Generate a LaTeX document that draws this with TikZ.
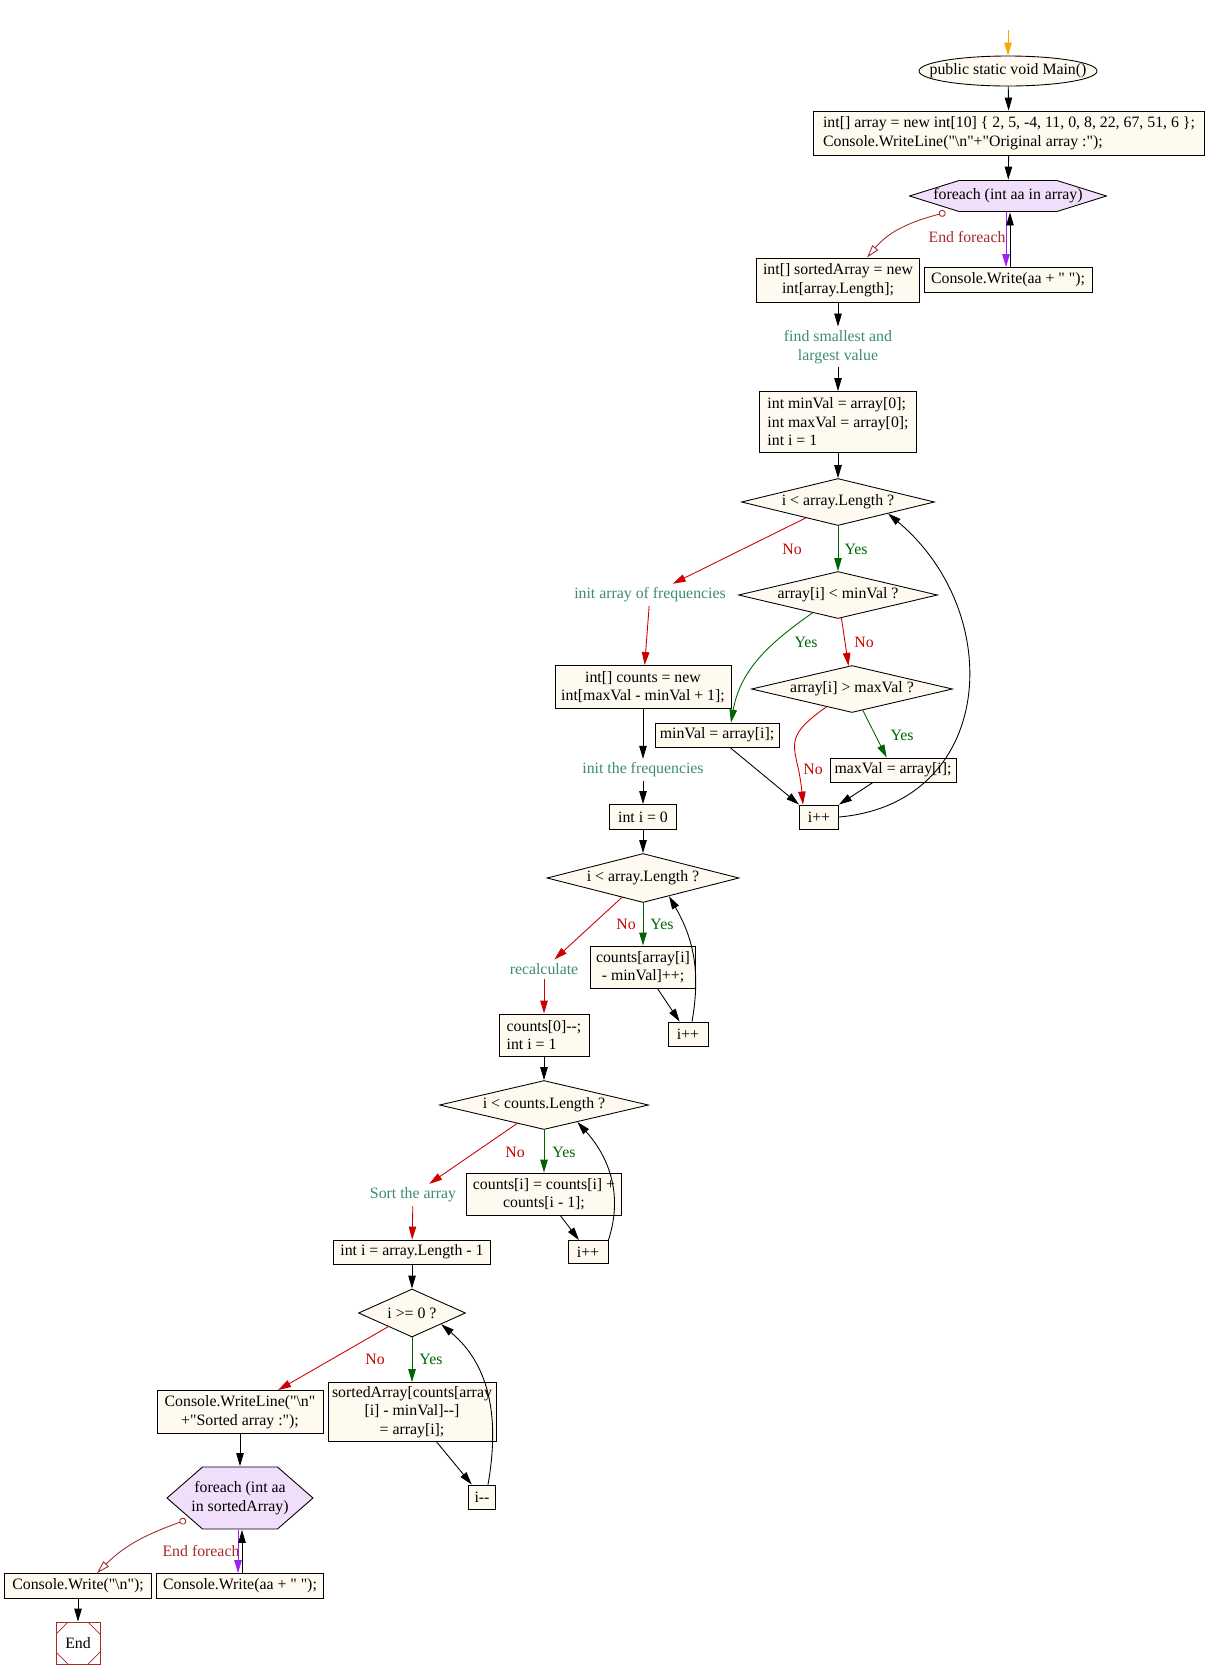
\documentclass[tikz,border=0pt]{standalone}
\usepackage{fontspec}
\setmainfont{Liberation Serif}[Ligatures=TeXOff]
\usetikzlibrary{arrows.meta,shapes.geometric}
\definecolor{boxfill}{RGB}{255,250,240}
\definecolor{loopfill}{RGB}{240,222,250}
\definecolor{notecol}{RGB}{60,140,110}
\definecolor{nocol}{RGB}{204,0,0}
\definecolor{yescol}{RGB}{0,100,0}
\definecolor{endcol}{RGB}{165,42,42}
\definecolor{loopcol}{RGB}{160,32,240}
\definecolor{startcol}{RGB}{255,165,0}

\begin{document}
\begin{tikzpicture}[font=\fontsize{9}{10.5}\selectfont, line width=0.5pt,
  >={Triangle[length=2.6mm,width=1.5mm]},
  codebox/.style={rectangle, draw, fill=boxfill, inner sep=2pt, align=center},
  testnode/.style={diamond, draw, fill=boxfill, inner sep=0pt},
  notenode/.style={text=notecol, align=center, inner sep=2pt},
  startnode/.style={ellipse, draw, fill=boxfill, inner sep=0pt, minimum width=3.56cm, minimum height=0.6cm},
  loopnode/.style={rectangle, inner sep=2pt, align=center, path picture={
    \filldraw[fill=loopfill]
      ([xshift=0.3pt]path picture bounding box.west)
      -- ([xshift=#1, yshift=-0.3pt]path picture bounding box.north west)
      -- ([xshift=-#1, yshift=-0.3pt]path picture bounding box.north east)
      -- ([xshift=-0.3pt]path picture bounding box.east)
      -- ([xshift=-#1, yshift=0.3pt]path picture bounding box.south east)
      -- ([xshift=#1, yshift=0.3pt]path picture bounding box.south west) -- cycle;}},
  stopnode/.style={rectangle, draw=endcol, minimum width=0.88cm, minimum height=0.84cm, path picture={
    \draw[endcol, line width=0.4pt]
      ([yshift=-0.24cm]path picture bounding box.north west) -- ([xshift=0.24cm]path picture bounding box.north west)
      ([xshift=-0.24cm]path picture bounding box.north east) -- ([yshift=-0.24cm]path picture bounding box.north east)
      ([yshift=0.24cm]path picture bounding box.south east) -- ([xshift=-0.24cm]path picture bounding box.south east)
      ([xshift=0.24cm]path picture bounding box.south west) -- ([yshift=0.24cm]path picture bounding box.south west);}},
  endtips/.style={endcol, {Circle[open,length=1.4mm]}-{Triangle[open,length=2.6mm,width=1.5mm]}}]
\useasboundingbox (0,0) rectangle (24.10,-33.56);

% first part: print the array
\coordinate (start) at (20.16,-0.60);
\node[startnode] (main) at (20.16,-1.42) {\makebox[0pt]{public static void Main()}};
\node[codebox, align=left, minimum width=7.82cm, minimum height=0.88cm] (setup) at (20.18,-2.66) {int[] array = new int[10] \{ 2, 5, -4, 11, 0, 8, 22, 67, 51, 6 \};\\Console.WriteLine("\textbackslash n"+"Original array :");};
\node[loopnode=1.0cm, minimum width=3.96cm, minimum height=0.64cm] (each1) at (20.16,-3.92) {foreach (int aa in array)};
\node[codebox, minimum width=3.26cm, minimum height=0.88cm] (sorted) at (16.76,-5.60) {int[] sortedArray = new\\int[array.Length];};
\node[codebox, minimum width=3.36cm, minimum height=0.5cm] (write1) at (20.16,-5.60) {Console.Write(aa + " ");};
\node[text=endcol] (endlbl1) at (19.34,-4.74) {End foreach};

% min and max
\node[notenode] (findlbl) at (16.76,-6.94) {find smallest and\\largest value};
\node[codebox, align=left, minimum width=3.14cm, minimum height=1.22cm] (init) at (16.76,-8.44) {int minVal = array[0];\\int maxVal = array[0];\\int i = 1};
\node[testnode, minimum width=3.86cm, minimum height=0.94cm] (cond1) at (16.76,-10.04) {\makebox[0pt]{i < array.Length ?}};
\node[testnode, minimum width=3.98cm, minimum height=0.94cm] (cond2) at (16.76,-11.90) {\makebox[0pt]{array[i] < minVal ?}};
\node[testnode, minimum width=4.02cm, minimum height=0.94cm] (cond3) at (17.04,-13.78) {\makebox[0pt]{array[i] > maxVal ?}};
\node[codebox, minimum width=2.48cm, minimum height=0.48cm] (setmin) at (14.34,-14.70) {minVal = array[i];};
\node[codebox, minimum width=2.52cm, minimum height=0.48cm] (setmax) at (17.86,-15.40) {maxVal = array[i];};
\node[codebox, minimum width=0.78cm, minimum height=0.48cm] (inc1) at (16.38,-16.34) {i++};
\node[text=nocol] (no1) at (15.84,-10.98) {No};
\node[text=yescol] (yes1) at (17.12,-10.98) {Yes};
\node[text=yescol] (yes2) at (16.12,-12.84) {Yes};
\node[text=nocol] (no2) at (17.28,-12.84) {No};
\node[text=yescol] (yes3) at (18.04,-14.70) {Yes};
\node[text=nocol] (no3) at (16.26,-15.38) {No};

% counting
\node[notenode] (freqlbl) at (13.00,-11.90) {init array of frequencies};
\node[codebox, minimum width=3.52cm, minimum height=0.86cm] (counts) at (12.86,-13.74) {int[] counts = new\\int[maxVal - minVal + 1];};
\node[notenode] (initlbl) at (12.86,-15.40) {init the frequencies};
\node[codebox, minimum width=1.34cm, minimum height=0.5cm] (zero) at (12.86,-16.34) {int i = 0};
\node[testnode, minimum width=3.84cm, minimum height=0.98cm] (cond4) at (12.86,-17.56) {\makebox[0pt]{i < array.Length ?}};
\node[codebox, minimum width=2.1cm, minimum height=0.84cm] (tally) at (12.86,-19.34) {counts[array[i]\\- minVal]++;};
\node[codebox, minimum width=0.8cm, minimum height=0.48cm] (inc2) at (13.76,-20.68) {i++};
\node[text=nocol] (no4) at (12.52,-18.48) {No};
\node[text=yescol] (yes4) at (13.24,-18.48) {Yes};

% running sums
\node[notenode] (recalclbl) at (10.88,-19.38) {recalculate};
\node[codebox, align=left, minimum width=1.8cm, minimum height=0.84cm] (dec0) at (10.88,-20.70) {counts[0]--;\\int i = 1};
\node[testnode, minimum width=4.18cm, minimum height=0.98cm] (cond5) at (10.88,-22.10) {\makebox[0pt]{i < counts.Length ?}};
\node[codebox, minimum width=3.10cm, minimum height=0.84cm] (accum) at (10.88,-23.88) {counts[i] = counts[i] +\\counts[i - 1];};
\node[codebox, minimum width=0.8cm, minimum height=0.46cm] (inc3) at (11.76,-25.04) {i++};
\node[text=nocol] (no5) at (10.30,-23.04) {No};
\node[text=yescol] (yes5) at (11.28,-23.04) {Yes};

% placing
\node[notenode] (sortlbl) at (8.26,-23.90) {Sort the array};
\node[codebox, minimum width=3.14cm, minimum height=0.48cm] (last) at (8.24,-25.04) {int i = array.Length - 1};
\node[testnode, minimum width=2.14cm, minimum height=0.96cm] (cond6) at (8.24,-26.26) {\makebox[0pt]{i >= 0 ?}};
\node[codebox, minimum width=3.36cm, minimum height=1.18cm] (place) at (8.24,-28.24) {sortedArray[counts[array\\{}[i] - minVal]--]\\= array[i];};
\node[codebox, minimum width=0.54cm, minimum height=0.48cm] (dec1) at (9.64,-29.94) {i--};
\node[text=nocol] (no6) at (7.50,-27.18) {No};
\node[text=yescol] (yes6) at (8.62,-27.18) {Yes};

% print sorted array
\node[codebox, minimum width=3.32cm, minimum height=0.86cm] (header) at (4.80,-28.24) {Console.WriteLine("\textbackslash n"\\+"Sorted array :");};
\node[loopnode=0.72cm, minimum width=2.94cm, minimum height=1.26cm] (each2) at (4.80,-29.96) {foreach (int aa\\in sortedArray)};
\node[codebox, minimum width=2.94cm, minimum height=0.5cm] (newline) at (1.56,-31.72) {Console.Write("\textbackslash n");};
\node[codebox, minimum width=3.34cm, minimum height=0.5cm] (write2) at (4.80,-31.72) {Console.Write(aa + " ");};
\node[text=endcol] (endlbl2) at (4.02,-31.02) {End foreach};
\node[stopnode] (stop) at (1.56,-32.86) {End};

\draw[->, startcol] (start) -- (main);
\draw[->] (main) -- (setup);
\draw[->] (setup) -- (each1);
\draw[->, loopcol] ([xshift=-0.04cm]each1.south) -- ([xshift=-0.04cm]write1.north);
\draw[->] ([xshift=0.04cm]write1.north) -- ([xshift=0.04cm]each1.south);
\draw[endtips] ([xshift=0.74cm]each1.south west) to[out=195, in=50] ([xshift=0.58cm]sorted.north);
\draw[->] (sorted) -- (findlbl);
\draw[->] (findlbl) -- (init);
\draw[->] (init) -- (cond1);
\draw[->, nocol] (cond1) -- (freqlbl);
\draw[->, yescol] (cond1) -- (cond2);
\draw[->, yescol] (cond2) to[out=215, in=80] ([xshift=0.28cm]setmin.north);
\draw[->, nocol] (cond2) -- (cond3);
\draw[->, yescol] (cond3) -- (setmax);
\draw[->, nocol] (cond3) to[out=215, in=95, looseness=1.5] ([xshift=-0.32cm]inc1.north);
\draw[->] ([xshift=0.26cm]setmin.south) -- (inc1.north west);
\draw[->] ([xshift=-0.4cm]setmax.south) -- (inc1.north east);
\draw[->] (inc1.east) to[out=5, in=-40, looseness=1.3] (cond1.-13);
\draw[->, nocol] (freqlbl) -- (counts);
\draw[->] (counts) -- (initlbl);
\draw[->] (initlbl) -- (zero);
\draw[->] (zero) -- (cond4);
\draw[->, nocol] (cond4) -- (recalclbl);
\draw[->, yescol] (cond4) -- (tally);
\draw[->] (tally) -- (inc2);
\draw[->] ([xshift=0.08cm]inc2.north) to[out=80, in=-60] (cond4.-35);
\draw[->, nocol] (recalclbl) -- (dec0);
\draw[->] (dec0) -- (cond5);
\draw[->, nocol] (cond5) -- (sortlbl);
\draw[->, yescol] (cond5) -- (accum);
\draw[->] (accum) -- (inc3);
\draw[->] (inc3.north east) to[out=72, in=-48] (cond5.-27);
\draw[->, nocol] (sortlbl) -- (last);
\draw[->] (last) -- (cond6);
\draw[->, nocol] (cond6) -- (header);
\draw[->, yescol] (cond6) -- (place);
\draw[->] (place) -- (dec1);
\draw[->] ([xshift=0.12cm]dec1.north) to[out=80, in=-40] (cond6.-21);
\draw[->] (header) -- (each2);
\draw[->, loopcol] ([xshift=-0.04cm]each2.south) -- ([xshift=-0.04cm]write2.north);
\draw[->] ([xshift=0.04cm]write2.north) -- ([xshift=0.04cm]each2.south);
\draw[endtips] ([xshift=0.4cm, yshift=0.2cm]each2.south west) to[out=200, in=45] ([xshift=0.38cm]newline.north);
\draw[->] (newline) -- (stop);

\end{tikzpicture}
\end{document}
